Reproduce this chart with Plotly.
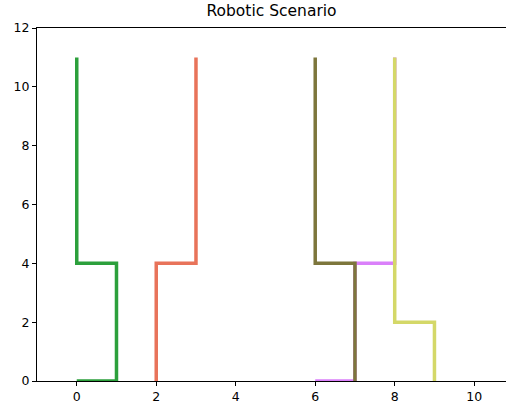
import plotly.graph_objects as go

green_x = [0, 0, 1, 1, 0]
green_y = [11, 4, 4, 0, 0]
red_x = [2, 2, 3, 3]
red_y = [0, 4, 4, 11]
purple_x = [6, 7, 7, 8, 8]
purple_y = [0, 0, 4, 4, 11]
olive_x = [6, 6, 7, 7]
olive_y = [11, 4, 4, 0]
yellow_x = [8, 8, 9, 9]
yellow_y = [11, 2, 2, 0]

series = [
    (green_x, green_y, "rgb(44,160,60)"),
    (red_x, red_y, "rgb(232,115,90)"),
    (purple_x, purple_y, "rgb(218,128,250)"),
    (olive_x, olive_y, "rgb(125,118,60)"),
    (yellow_x, yellow_y, "rgb(212,216,104)"),
]

fig = go.Figure()
for xs, ys, c in series:
    fig.add_trace(go.Scatter(x=xs, y=ys, mode="lines",
                             line=dict(color=c, width=3.5), showlegend=False,
                             cliponaxis=False))

fig.update_layout(
    width=506, height=405,
    margin=dict(l=37, r=0, t=28, b=24),
    plot_bgcolor="white", paper_bgcolor="white",
    font=dict(family="DejaVu Sans", size=12.5, color="black"),
    title=dict(text="Robotic Scenario", x=0.5, xref="paper", y=1, yref="container",
               yanchor="top", pad=dict(t=5), font=dict(size=15.5)),
)
fig.update_xaxes(range=[-1, 10.8], tickvals=[0, 2, 4, 6, 8, 10],
                 showgrid=False, zeroline=False, showline=True, linecolor="black",
                 linewidth=1, mirror=True, ticks="outside", ticklen=4, tickcolor="black")
fig.update_yaxes(range=[0, 12], tickvals=[0, 2, 4, 6, 8, 10, 12],
                 showgrid=False, zeroline=False, showline=True, linecolor="black",
                 linewidth=1, ticks="outside", ticklen=4, tickcolor="black")

fig.write_html("out.html")
